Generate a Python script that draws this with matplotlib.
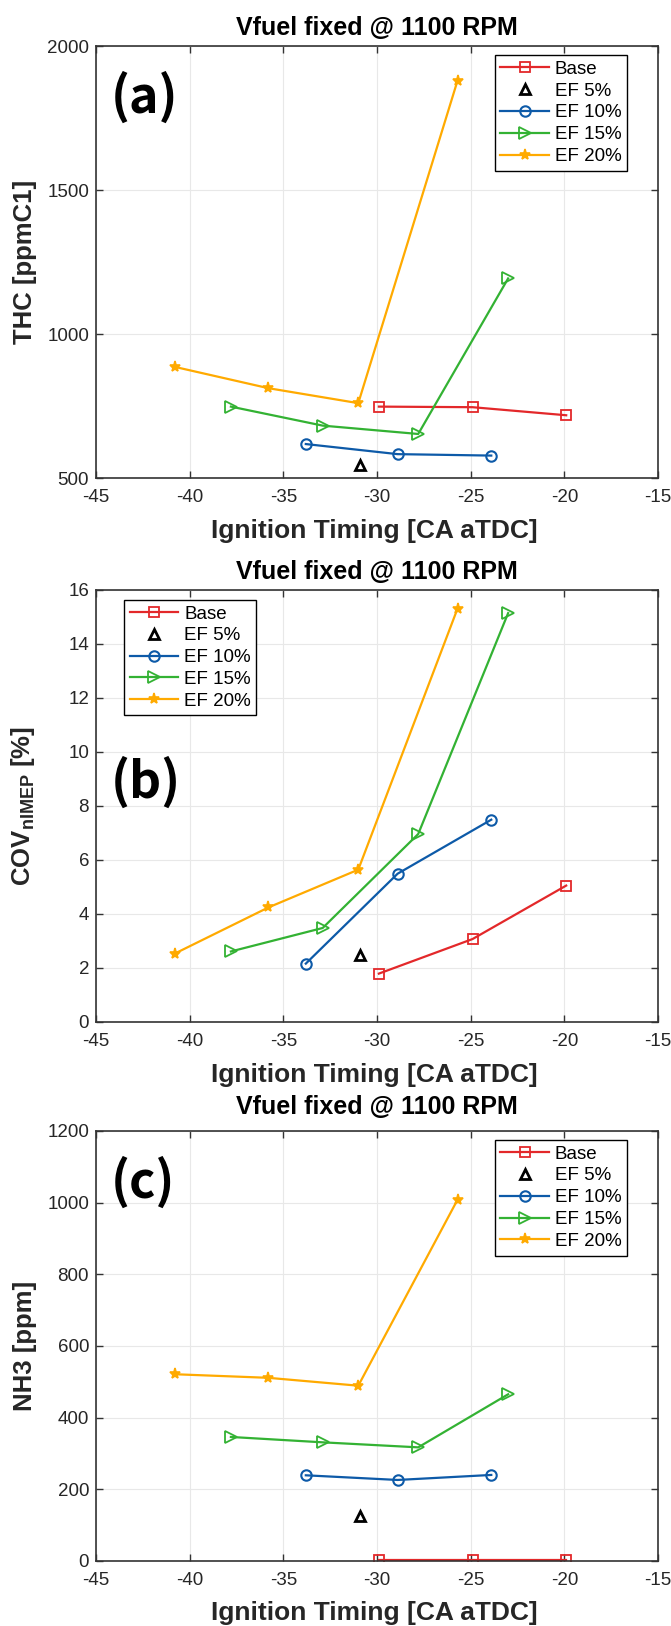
import matplotlib
matplotlib.use("Agg")
import matplotlib.pyplot as plt

plt.rcParams['font.family'] = ['Liberation Sans', 'DejaVu Sans']
plt.rcParams['axes.unicode_minus'] = False
plt.rcParams['mathtext.fontset'] = 'custom'
plt.rcParams['mathtext.rm'] = 'Liberation Sans'
plt.rcParams['mathtext.bf'] = 'Liberation Sans:bold'

# ---------------- data ----------------
x_base = [-29.9, -24.9, -19.9]
x_ef5 = [-30.9]
x_ef10 = [-33.8, -28.9, -23.9]
x_ef15 = [-37.8, -32.9, -27.8, -23.0]
x_ef20 = [-40.8, -35.8, -31.0, -25.7]

thc_base = [748, 746, 718]
thc_ef5 = [545]
thc_ef10 = [618, 583, 578]
thc_ef15 = [748, 682, 653, 1193]
thc_ef20 = [886, 812, 760, 1880]

cov_base = [1.79, 3.07, 5.05]
cov_ef5 = [2.49]
cov_ef10 = [2.16, 5.49, 7.49]
cov_ef15 = [2.61, 3.48, 6.96, 15.14]
cov_ef20 = [2.53, 4.24, 5.64, 15.31]

nh3_base = [3, 3, 3]
nh3_ef5 = [126]
nh3_ef10 = [239, 226, 240]
nh3_ef15 = [346, 331, 317, 465]
nh3_ef20 = [521, 511, 489, 1008]

series_labels = ['Base', 'EF 5%', 'EF 10%', 'EF 15%', 'EF 20%']
x_ticks = [-45, -40, -35, -30, -25, -20, -15]
title_text = 'Vfuel fixed @ 1100 RPM'
xlabel_text = 'Ignition Timing [CA aTDC]'

panels = [
    dict(tag='(a)', ylabel='THC [ppmC1]', ylim=(500, 2000), yticks=[500, 1000, 1500, 2000],
         ys=[thc_base, thc_ef5, thc_ef10, thc_ef15, thc_ef20], leg='right', tagy=0.94, tpad=8),
    dict(tag='(b)', ylabel=r'COV$_{\mathbf{nIMEP}}$ [%]', ylim=(0, 16), yticks=list(range(0, 17, 2)),
         ys=[cov_base, cov_ef5, cov_ef10, cov_ef15, cov_ef20], leg='left', tagy=0.615, tpad=8),
    dict(tag='(c)', ylabel='NH3 [ppm]', ylim=(0, 1200), yticks=list(range(0, 1201, 200)),
         ys=[nh3_base, nh3_ef5, nh3_ef10, nh3_ef15, nh3_ef20], leg='right', tagy=0.94, tpad=12),
]
xs = [x_base, x_ef5, x_ef10, x_ef15, x_ef20]

RED = '#e3282a'
BLUE = '#0d5aa8'
GREEN = '#33b233'
ORANGE = '#ffaa00'
styles = [
    dict(color=RED, marker='s', ms=6.5, mfc='none', mew=1.3, ls='-', lw=1.6),
    dict(color='black', marker='^', ms=7.5, mfc='none', mew=2.0, ls='none'),
    dict(color=BLUE, marker='o', ms=7.5, mfc='none', mew=1.5, ls='-', lw=1.6),
    dict(color=GREEN, marker='>', ms=9, mfc='none', mew=1.3, ls='-', lw=1.6),
    dict(color=ORANGE, marker='*', ms=8, mfc=ORANGE, mew=1.2, ls='-', lw=1.6),
]

fig = plt.figure(figsize=(6.71, 16.26), dpi=100)
left, width = 0.1431, 0.8375
bottoms = [0.706, 0.3715, 0.040]
heights = [0.2657, 0.2657, 0.2645]

SPINE = '#333333'
for p, b, h in zip(panels, bottoms, heights):
    ax = fig.add_axes([left, b, width, h])
    for x, y, st, lab in zip(xs, p['ys'], styles, series_labels):
        ax.plot(x, y, label=lab, **st)
    ax.set_xlim(-45, -15)
    ax.set_ylim(*p['ylim'])
    ax.set_xticks(x_ticks)
    ax.set_yticks(p['yticks'])
    ax.grid(True, color='#e8e8e8', lw=0.8)
    ax.set_axisbelow(True)
    ax.tick_params(direction='in', length=5, width=1, color=SPINE, top=True, right=True,
                   labelsize=13.5, labelcolor='#262626')
    ax.tick_params(axis='x', pad=8)
    ax.tick_params(axis='y', pad=5)
    for s in ax.spines.values():
        s.set_color(SPINE)
        s.set_linewidth(1.2)
    ax.set_title(title_text, fontsize=18, fontweight='bold', pad=p['tpad'], color='black')
    ax.set_xlabel(xlabel_text, fontsize=19, fontweight='bold', color='#262626')
    ax.xaxis.set_label_coords(0.496, -0.094)
    ax.set_ylabel(p['ylabel'], fontsize=18.5, fontweight='bold', color='#262626')
    ax.yaxis.set_label_coords(-0.105, 0.5)
    ax.text(0.026, p['tagy'], p['tag'], transform=ax.transAxes, ha='left', va='top',
            fontsize=36, fontweight='bold', family=['Noto Sans CJK KR', 'DejaVu Sans'])
    if p['leg'] == 'right':
        kw = dict(loc='upper right', bbox_to_anchor=(0.945, 0.979))
    else:
        kw = dict(loc='upper left', bbox_to_anchor=(0.050, 0.977))
    leg = ax.legend(fontsize=13.5, borderaxespad=0, frameon=True, fancybox=False,
                    edgecolor='black', framealpha=1, labelspacing=0.25, borderpad=0.3,
                    handlelength=2.6, handletextpad=0.3, **kw)
    leg.get_frame().set_linewidth(1.0)

fig.savefig('out.png', dpi=100)
